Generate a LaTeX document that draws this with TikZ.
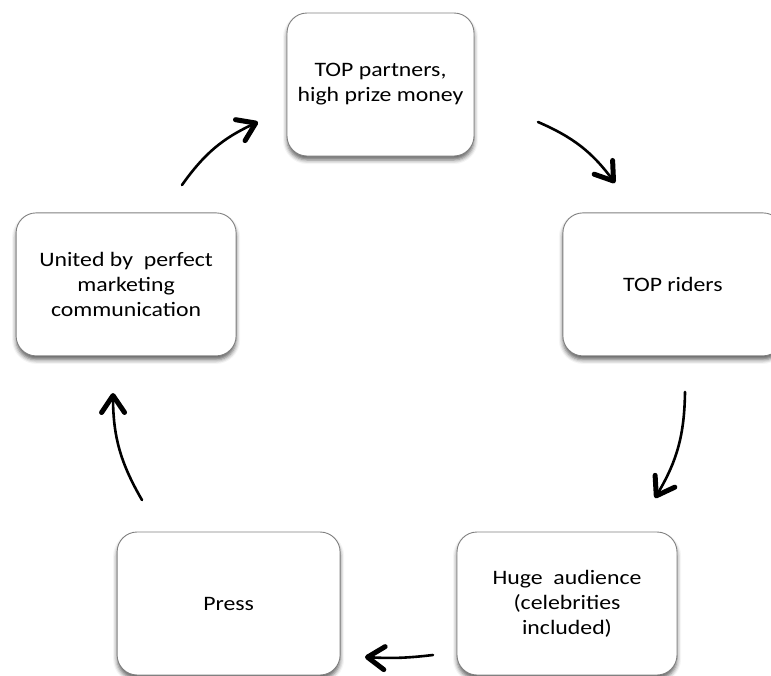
\documentclass[tikz,border=0pt]{standalone}
\usepackage{fontspec}
\setmainfont{Carlito}[FakeStretch=1.16]
\usetikzlibrary{positioning,arrows.meta,shadows.blur}

\begin{document}
\begin{tikzpicture}[
	box/.style={rectangle, rounded corners=20pt, draw=black!50, line width=0.9pt, fill=white,
		minimum width=220pt, minimum height=143pt, inner sep=0pt, align=center,
		font=\fontsize{20.5pt}{25pt}\selectfont,
		blur shadow={shadow xshift=0pt, shadow yshift=-4pt, shadow blur radius=4pt, shadow opacity=60}},
	arw/.style={line width=2.6pt, line cap=round, -{Straight Barb[length=17pt, width=23pt, line width=5pt, round]}}
	]
	\useasboundingbox (0,0) rectangle (771pt,-675pt);
	
	% the five steps of the cycle
	\node (partners) [box, minimum width=187pt] at (380.5pt,-84.5pt) {TOP partners,\\high prize money};
	\node (riders) [box, below right=56pt and 88pt of partners] {TOP riders};
	\node (united) [box, below left=56pt and 50pt of partners] {United by\ \ perfect\\marketing\\communication};
	\node (audience) [box] at (567pt,-603.5pt) {Huge\ \ audience\\(celebrities\\included)};
	\node (press) [box, minimum width=223pt, left=116pt of audience] {Press};
	
	% ends of the hand drawn arrows
	\coordinate (a1s) at (182pt,-185pt);
	\coordinate (a1e) at (258pt,-122pt);
	\coordinate (a2s) at (538pt,-122pt);
	\coordinate (a2e) at (615pt,-183pt);
	\coordinate (a3s) at (685pt,-392pt);
	\coordinate (a3e) at (655pt,-498pt);
	\coordinate (a4s) at (433pt,-655pt);
	\coordinate (a4e) at (365pt,-657pt);
	\coordinate (a5s) at (142pt,-500pt);
	\coordinate (a5e) at (113pt,-393pt);
	
	\path[arw] (a1s) edge [bend left=15] (a1e);
	\path[arw] (a2s) edge [bend left=15] (a2e);
	\path[arw] (a3s) edge [bend left=15] (a3e);
	\path[arw] (a4s) edge [bend left=5] (a4e);
	\path[arw] (a5s) edge [bend left=15] (a5e);
\end{tikzpicture}
\end{document}
